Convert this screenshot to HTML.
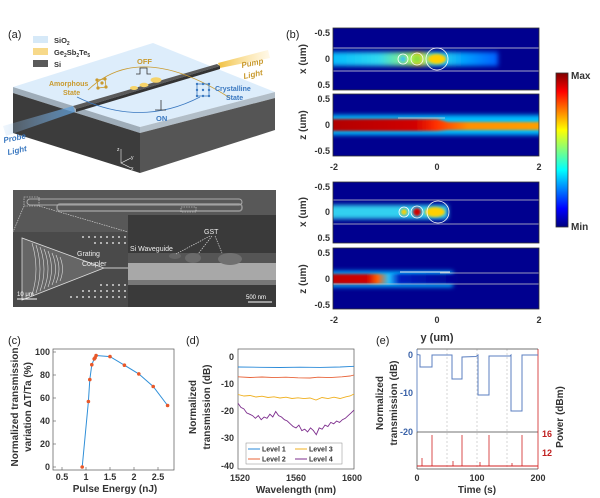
<!DOCTYPE html>
<html><head><meta charset="utf-8"><style>
html,body{margin:0;padding:0;background:#fff;}
svg{display:block;font-family:"Liberation Sans",Arial,sans-serif;}
.t{font-size:9px;font-weight:bold;fill:#333;}
.lab{font-size:11px;fill:#222;}
.al{font-size:10px;font-weight:bold;fill:#333;}
</style></head><body>
<svg width="600" height="498" viewBox="0 0 600 498" xmlns="http://www.w3.org/2000/svg">
<defs>
<linearGradient id="jet" x1="0" y1="1" x2="0" y2="0">
<stop offset="0" stop-color="#00007f"/><stop offset="0.12" stop-color="#0000ff"/><stop offset="0.37" stop-color="#00ffff"/><stop offset="0.5" stop-color="#7fff7f"/><stop offset="0.63" stop-color="#ffff00"/><stop offset="0.88" stop-color="#ff0000"/><stop offset="1" stop-color="#7f0000"/>
</linearGradient>
<linearGradient id="band1" x1="0" y1="0" x2="1" y2="0">
<stop offset="0" stop-color="#00b8ff"/><stop offset="0.3" stop-color="#30d8f0"/><stop offset="0.5" stop-color="#a0f060"/><stop offset="0.52" stop-color="#ffe000"/><stop offset="0.62" stop-color="#40e0e0"/><stop offset="0.8" stop-color="#00a0ff"/><stop offset="1" stop-color="#0060ff"/>
</linearGradient>
<linearGradient id="band2" x1="0" y1="0" x2="1" y2="0">
<stop offset="0" stop-color="#b00000"/><stop offset="0.4" stop-color="#d00000"/><stop offset="0.5" stop-color="#ff3000"/><stop offset="0.65" stop-color="#ff9000"/><stop offset="1" stop-color="#ffa000"/>
</linearGradient>
<linearGradient id="band4" x1="0" y1="0" x2="1" y2="0">
<stop offset="0" stop-color="#c00000"/><stop offset="0.3" stop-color="#d00000"/><stop offset="0.38" stop-color="#ff6000"/><stop offset="0.47" stop-color="#20c0ff"/><stop offset="0.55" stop-color="#0020c0"/><stop offset="1" stop-color="#000090"/>
</linearGradient>
<filter id="bl" x="-20%" y="-50%" width="140%" height="200%"><feGaussianBlur stdDeviation="2.5"/></filter>
<filter id="bl2" x="-20%" y="-50%" width="140%" height="200%"><feGaussianBlur stdDeviation="1.2"/></filter>
<linearGradient id="probe" x1="0" y1="0" x2="1" y2="0"><stop offset="0" stop-color="#a0c8f0" stop-opacity="0.2"/><stop offset="1" stop-color="#5b9bd5"/></linearGradient>
<linearGradient id="pump" x1="0" y1="0" x2="1" y2="0"><stop offset="0" stop-color="#f0c040"/><stop offset="1" stop-color="#ffe090" stop-opacity="0.2"/></linearGradient>
<clipPath id="c1"><rect x="333" y="28" width="206" height="62"/></clipPath>
<clipPath id="c2"><rect x="333" y="94" width="206" height="62"/></clipPath>
<clipPath id="c3"><rect x="333" y="182" width="206" height="61"/></clipPath>
<clipPath id="c4"><rect x="333" y="248" width="206" height="61"/></clipPath>
</defs>

<!-- ===== (a) ===== -->
<text x="8" y="38" class="lab" font-size="12">(a)</text>
<polygon points="13,87 153,43 275,92 140,127" fill="#ddedfb"/>
<polygon points="13,87 140,127 140,133 13,93" fill="#9fadb9"/>
<polygon points="140,127 275,92 275,98 140,133" fill="#b2bec8"/>
<polygon points="13,93 140,133 140,173 13,133" fill="#3c3c3c"/>
<polygon points="140,133 275,98 275,130 140,173" fill="#555"/>
<rect x="33" y="36" width="15" height="7" fill="#d6e9f8"/><text x="54" y="43" font-size="7.5" font-weight="bold" fill="#333">SiO<tspan font-size="5" dy="2">2</tspan></text>
<rect x="33" y="48" width="15" height="7" fill="#f7d98a"/><text x="54" y="55" font-size="7.5" font-weight="bold" fill="#333">Ge<tspan font-size="5" dy="2">2</tspan><tspan dy="-2">Sb</tspan><tspan font-size="5" dy="2">2</tspan><tspan dy="-2">Te</tspan><tspan font-size="5" dy="2">5</tspan></text>
<rect x="33" y="60" width="15" height="7" fill="#5a5a5a"/><text x="54" y="67" font-size="7.5" font-weight="bold" fill="#333">Si</text>
<polygon points="3,126 73,106 75,112 6,136" fill="url(#probe)" opacity="0.8"/>
<polygon points="218,63 268,50 270,58 220,68" fill="url(#pump)"/>
<polygon points="73,106 217,64 220,66 76,109" fill="#5a5a5a"/>
<polygon points="76,109 220,66 220,69 76,112" fill="#333"/>
<ellipse cx="134" cy="88" rx="4" ry="2" fill="#f5d36a"/><ellipse cx="144" cy="85" rx="4.5" ry="2.2" fill="#f5d36a"/><ellipse cx="156" cy="80" rx="5.5" ry="2.8" fill="#f5d36a"/>
<path d="M88,90 Q140,40 230,98" fill="none" stroke="#c99a2e" stroke-width="0.8"/>
<path d="M77,97 Q140,128 200,97" fill="none" stroke="#3a78c0" stroke-width="0.8"/>
<text x="137" y="64" font-size="7.5" fill="#c99a2e" font-weight="bold">OFF</text>
<path d="M136,74 h4 v-6 h7 v6 h4" fill="none" stroke="#333" stroke-width="0.8"/>
<path d="M155,110 h6 v-10 v10 h5" fill="none" stroke="#333" stroke-width="0.8"/>
<text x="156" y="121" font-size="7.5" fill="#3a78c0" font-weight="bold">ON</text>
<text x="49" y="86" font-size="7" fill="#c99a2e" font-weight="bold">Amorphous</text><text x="63" y="95" font-size="7" fill="#c99a2e" font-weight="bold">State</text>
<g stroke="#c99a2e" stroke-width="0.8" fill="#c99a2e"><path d="M97,80 l8,-1 l1,8 l-8,1z M98,88 l8,-1" fill="none"/><circle cx="97" cy="80" r="1.2"/><circle cx="105" cy="79" r="1.2"/><circle cx="106" cy="87" r="1.2"/><circle cx="98" cy="88" r="1.2"/><circle cx="102" cy="83" r="1.2"/></g>
<g fill="#3a78c0"><rect x="197" y="84" width="12" height="12" fill="none" stroke="#3a78c0" stroke-width="0.8"/><circle cx="197" cy="84" r="1.2"/><circle cx="203" cy="84" r="1.2"/><circle cx="209" cy="84" r="1.2"/><circle cx="197" cy="90" r="1.2"/><circle cx="203" cy="90" r="1.2"/><circle cx="209" cy="90" r="1.2"/><circle cx="197" cy="96" r="1.2"/><circle cx="203" cy="96" r="1.2"/><circle cx="209" cy="96" r="1.2"/></g>
<text x="215" y="91" font-size="7" fill="#3a78c0" font-weight="bold">Crystalline</text><text x="226" y="100" font-size="7" fill="#3a78c0" font-weight="bold">State</text>
<text x="242" y="68" font-size="8" fill="#c99a2e" font-weight="bold" font-style="italic" transform="rotate(-12 242 68)">Pump</text>
<text x="244" y="79" font-size="8" fill="#c99a2e" font-weight="bold" font-style="italic" transform="rotate(-12 244 79)">Light</text>
<text x="4" y="143" font-size="8" fill="#3a78c0" font-weight="bold" font-style="italic" transform="rotate(-12 4 143)">Probe</text>
<text x="8" y="155" font-size="8" fill="#3a78c0" font-weight="bold" font-style="italic" transform="rotate(-12 8 155)">Light</text>
<g stroke="#eee" stroke-width="0.6" fill="none"><path d="M121,149 v14 l10,-5 M121,163 l10,5"/></g>
<text x="117" y="151" font-size="5" fill="#eee">z</text><text x="131" y="159" font-size="5" fill="#eee">y</text><text x="131" y="170" font-size="5" fill="#eee">x</text>
<!-- SEM -->
<rect x="13" y="190" width="263" height="117" fill="#585858"/>
<rect x="57" y="204" width="185" height="7" rx="3" fill="none" stroke="#999" stroke-width="1.5"/>
<rect x="27" y="199" width="215" height="6" rx="3" fill="none" stroke="#aaa" stroke-width="1"/>
<rect x="13" y="232" width="115" height="75" fill="#4a4a4a"/>
<g fill="#ccc" opacity="0.8">
<rect x="82" y="236" width="2" height="2"/><rect x="88" y="236" width="2" height="2"/><rect x="94" y="236" width="2" height="2"/><rect x="100" y="236" width="2" height="2"/><rect x="106" y="236" width="2" height="2"/><rect x="112" y="236" width="2" height="2"/><rect x="118" y="236" width="2" height="2"/><rect x="124" y="236" width="2" height="2"/>
<rect x="94" y="242" width="2" height="2"/><rect x="100" y="242" width="2" height="2"/><rect x="106" y="242" width="2" height="2"/><rect x="112" y="242" width="2" height="2"/><rect x="118" y="242" width="2" height="2"/><rect x="124" y="242" width="2" height="2"/>
<rect x="100" y="284" width="2" height="2"/><rect x="106" y="284" width="2" height="2"/><rect x="112" y="284" width="2" height="2"/><rect x="118" y="284" width="2" height="2"/><rect x="124" y="284" width="2" height="2"/>
<rect x="82" y="290" width="2" height="2"/><rect x="88" y="290" width="2" height="2"/><rect x="94" y="290" width="2" height="2"/><rect x="100" y="290" width="2" height="2"/><rect x="106" y="290" width="2" height="2"/><rect x="112" y="290" width="2" height="2"/><rect x="118" y="290" width="2" height="2"/><rect x="124" y="290" width="2" height="2"/>
<rect x="70" y="296" width="2" height="2"/><rect x="76" y="296" width="2" height="2"/><rect x="82" y="296" width="2" height="2"/><rect x="88" y="296" width="2" height="2"/><rect x="94" y="296" width="2" height="2"/><rect x="100" y="296" width="2" height="2"/><rect x="106" y="296" width="2" height="2"/><rect x="112" y="296" width="2" height="2"/><rect x="118" y="296" width="2" height="2"/><rect x="124" y="296" width="2" height="2"/>
</g>
<polygon points="22,238 22,300 104,268" fill="#666" stroke="#ddd" stroke-width="0.8"/>
<g fill="none" stroke="#ddd" stroke-width="0.6"><path d="M32,243 Q40,269 32,295"/><path d="M36,245 Q44,269 36,293"/><path d="M40,247 Q48,269 40,291"/><path d="M44,249 Q52,269 44,289"/><path d="M48,251 Q55,269 48,287"/><path d="M52,253 Q59,269 52,285"/><path d="M56,255 Q62,269 56,283"/><path d="M60,257 Q65,269 60,281"/></g>
<line x1="104" y1="268" x2="128" y2="268" stroke="#ccc" stroke-width="1"/>
<text x="77" y="256" font-size="7" fill="#eee">Grating</text><text x="82" y="266" font-size="7" fill="#eee">Coupler</text>
<line x1="17" y1="299" x2="37" y2="299" stroke="#fff" stroke-width="1"/><text x="17" y="296" font-size="6" fill="#fff">10 μm</text>
<rect x="128" y="215" width="148" height="92" fill="#3a3a3a"/>
<rect x="128" y="253" width="148" height="10" fill="#555"/>
<rect x="128" y="263" width="148" height="17" fill="#a8a8a8"/>
<rect x="128" y="280" width="148" height="5" fill="#777"/>
<ellipse cx="175" cy="256" rx="6" ry="3" fill="#666"/><ellipse cx="193" cy="258" rx="8" ry="5" fill="#6a6a6a"/><ellipse cx="230" cy="259" rx="12" ry="6" fill="#707070"/>
<text x="130" y="251" font-size="7" fill="#eee">Si Waveguide</text><text x="204" y="234" font-size="7" fill="#eee">GST</text>
<g stroke="#eee" stroke-width="0.6" stroke-dasharray="1.5,1"><line x1="210" y1="236" x2="176" y2="254"/><line x1="212" y1="236" x2="198" y2="254"/><line x1="215" y1="236" x2="222" y2="253"/></g>
<line x1="248" y1="302" x2="272" y2="302" stroke="#fff"/><text x="246" y="299" font-size="6" fill="#fff">500 nm</text>
<g stroke="#ddd" stroke-width="0.6" stroke-dasharray="1.5,1" fill="none"><rect x="24" y="197" width="15" height="9"/><line x1="24" y1="206" x2="13" y2="232"/><line x1="39" y1="206" x2="128" y2="232"/><rect x="181" y="207" width="15" height="5"/></g>

<!-- ===== (b) ===== -->
<text x="286" y="38" class="lab" font-size="12">(b)</text>
<g clip-path="url(#c1)">
<rect x="333" y="28" width="206" height="62" fill="#00008f"/>
<rect x="328" y="52" width="170" height="14" fill="url(#band1)" filter="url(#bl)"/>
<ellipse cx="437" cy="59" rx="9" ry="5" fill="#ffd000" filter="url(#bl2)"/>
<ellipse cx="417" cy="59" rx="4" ry="4" fill="#90e040" filter="url(#bl2)"/>
<ellipse cx="403" cy="59" rx="3" ry="3" fill="#40c0f0" filter="url(#bl2)"/>
<line x1="333" y1="48" x2="539" y2="48" stroke="#ddd" stroke-width="0.8"/><line x1="333" y1="71" x2="539" y2="71" stroke="#ddd" stroke-width="0.8"/>
<circle cx="403" cy="59" r="5" fill="none" stroke="#fff" stroke-width="0.8"/><circle cx="417" cy="59" r="6" fill="none" stroke="#fff" stroke-width="0.8"/><circle cx="437" cy="59" r="11" fill="none" stroke="#fff" stroke-width="0.8"/>
</g>
<rect x="333" y="28" width="206" height="62" fill="none" stroke="#333" stroke-width="0.8"/>
<g clip-path="url(#c2)">
<rect x="333" y="94" width="206" height="62" fill="#00008f"/>
<rect x="328" y="115" width="216" height="20" fill="#00c0ff" filter="url(#bl)"/>
<path d="M328,119 H437 L448,122 H544 V130 H448 L437,131 H328Z" fill="url(#band2)" filter="url(#bl2)"/>
<line x1="398" y1="118" x2="445" y2="118" stroke="#ddd" stroke-width="0.8"/>
</g>
<rect x="333" y="94" width="206" height="62" fill="none" stroke="#333" stroke-width="0.8"/>
<g clip-path="url(#c3)">
<rect x="333" y="182" width="206" height="61" fill="#00008f"/>
<rect x="328" y="205" width="120" height="14" fill="#30d0f0" filter="url(#bl)"/>
<ellipse cx="435" cy="212" rx="10" ry="5" fill="#ffd000" filter="url(#bl2)"/>
<ellipse cx="417" cy="212" rx="4" ry="4" fill="#d00000" filter="url(#bl2)"/>
<ellipse cx="404" cy="212" rx="3" ry="3" fill="#ffd000" filter="url(#bl2)"/>
<line x1="333" y1="200" x2="539" y2="200" stroke="#ccc" stroke-width="0.8"/><line x1="333" y1="224" x2="539" y2="224" stroke="#ccc" stroke-width="0.8"/>
<circle cx="404" cy="212" r="5" fill="none" stroke="#fff" stroke-width="0.8"/><circle cx="417" cy="212" r="6" fill="none" stroke="#fff" stroke-width="0.8"/><circle cx="438" cy="212" r="11" fill="none" stroke="#fff" stroke-width="0.8"/>
</g>
<rect x="333" y="182" width="206" height="61" fill="none" stroke="#333" stroke-width="0.8"/>
<g clip-path="url(#c4)">
<rect x="333" y="248" width="206" height="61" fill="#00008f"/>
<rect x="328" y="271" width="125" height="16" fill="#00b0ff" filter="url(#bl)"/>
<rect x="328" y="274" width="130" height="10" fill="url(#band4)" filter="url(#bl2)"/>
<line x1="400" y1="272" x2="450" y2="272" stroke="#eee" stroke-width="1"/>
<line x1="440" y1="273" x2="539" y2="273" stroke="#ccc" stroke-width="0.7"/><line x1="333" y1="284" x2="539" y2="284" stroke="#ccc" stroke-width="0.7"/>
</g>
<rect x="333" y="248" width="206" height="61" fill="none" stroke="#333" stroke-width="0.8"/>
<g class="t" text-anchor="end">
<text x="330" y="36">-0.5</text><text x="330" y="62">0</text><text x="330" y="88">0.5</text>
<text x="330" y="102">0.5</text><text x="330" y="128">0</text><text x="330" y="154">-0.5</text>
<text x="330" y="190">-0.5</text><text x="330" y="215">0</text><text x="330" y="241">0.5</text>
<text x="330" y="256">0.5</text><text x="330" y="282">0</text><text x="330" y="308">-0.5</text>
</g>
<g class="t" text-anchor="middle">
<text x="334" y="170">-2</text><text x="437" y="170">0</text><text x="539" y="170">2</text>
<text x="334" y="323">-2</text><text x="437" y="323">0</text><text x="539" y="323">2</text>
</g>
<g class="al" text-anchor="middle">
<text transform="translate(306,59) rotate(-90)">x (um)</text>
<text transform="translate(306,125) rotate(-90)">z (um)</text>
<text transform="translate(306,212) rotate(-90)">x (um)</text>
<text transform="translate(306,279) rotate(-90)">z (um)</text>
<text x="437" y="341" font-size="11">y (um)</text>
</g>
<rect x="556" y="73" width="12" height="154" fill="url(#jet)" stroke="#333" stroke-width="0.8"/>
<text x="571" y="79" class="al">Max</text><text x="571" y="230" class="al">Min</text>

<!-- ===== (c) ===== -->
<text x="8" y="344" class="lab" font-size="12">(c)</text>
<rect x="53" y="349" width="121" height="121" fill="none" stroke="#555" stroke-width="0.7"/>
<g stroke="#555" stroke-width="0.6"><line x1="62" y1="470" x2="62" y2="467"/><line x1="86" y1="470" x2="86" y2="467"/><line x1="110" y1="470" x2="110" y2="467"/><line x1="134" y1="470" x2="134" y2="467"/><line x1="158" y1="470" x2="158" y2="467"/>
<line x1="53" y1="467" x2="56" y2="467"/><line x1="53" y1="444" x2="56" y2="444"/><line x1="53" y1="421" x2="56" y2="421"/><line x1="53" y1="398" x2="56" y2="398"/><line x1="53" y1="375" x2="56" y2="375"/><line x1="53" y1="352" x2="56" y2="352"/></g>
<g class="t" text-anchor="middle"><text x="62" y="480">0.5</text><text x="86" y="480">1</text><text x="110" y="480">1.5</text><text x="134" y="480">2</text><text x="158" y="480">2.5</text></g>
<g class="t" text-anchor="end"><text x="50" y="470">0</text><text x="50" y="447">20</text><text x="50" y="424">40</text><text x="50" y="401">60</text><text x="50" y="378">80</text><text x="50" y="355">100</text></g>
<text x="115" y="492" class="al" text-anchor="middle">Pulse Energy (nJ)</text>
<text transform="translate(18,407) rotate(-90)" class="al" text-anchor="middle">Normalized transmission</text>
<text transform="translate(31,407) rotate(-90)" class="al" text-anchor="middle">variation ΔT/Ta (%)</text>
<polyline points="82.2,467 88.4,401.5 89.8,379.6 91.8,364.7 94.2,358.9 95.1,357.8 96.1,355.5 110,356.6 124.4,365.2 138.8,373.9 153.2,386.5 167.6,405.5" fill="none" stroke="#2f8fd8" stroke-width="1"/>
<g fill="#e8582a"><circle cx="82.2" cy="467" r="1.8"/><circle cx="88.4" cy="401.5" r="1.8"/><circle cx="89.8" cy="379.6" r="1.8"/><circle cx="91.8" cy="364.7" r="1.8"/><circle cx="94.2" cy="358.9" r="1.8"/><circle cx="95.1" cy="357.8" r="1.8"/><circle cx="96.1" cy="355.5" r="1.8"/><circle cx="110" cy="356.6" r="1.8"/><circle cx="124.4" cy="365.2" r="1.8"/><circle cx="138.8" cy="373.9" r="1.8"/><circle cx="153.2" cy="386.5" r="1.8"/><circle cx="167.6" cy="405.5" r="1.8"/></g>

<!-- ===== (d) ===== -->
<text x="186" y="344" class="lab" font-size="12">(d)</text>
<rect x="238" y="349" width="116" height="120" fill="none" stroke="#555" stroke-width="0.7"/>
<g class="t" text-anchor="end"><text x="234" y="360">0</text><text x="234" y="387">-10</text><text x="234" y="414">-20</text><text x="234" y="441">-30</text><text x="234" y="469">-40</text></g>
<g class="t" text-anchor="middle"><text x="240" y="481">1520</text><text x="296" y="481">1560</text><text x="352" y="481">1600</text></g>
<text x="296" y="493" class="al" text-anchor="middle">Wavelength (nm)</text>
<text transform="translate(196,407) rotate(-90)" class="al" text-anchor="middle">Normalized</text>
<text transform="translate(210,407) rotate(-90)" class="al" text-anchor="middle">transmission (dB)</text>
<polyline points="238,367 260,367.3 280,367.5 300,367.2 320,367.4 340,367 354,366.3" fill="none" stroke="#2a8ad8" stroke-width="0.9"/>
<polyline points="238,376.8 250,377.5 262,377 274,377.6 286,377.2 298,377.8 310,378 318,377.2 330,377.6 342,376.8 350,376 354,375" fill="none" stroke="#e8643a" stroke-width="0.9"/>
<polyline points="238,394.5 244,396 250,395.5 256,397 262,396.2 268,397.5 274,396.8 280,398 286,397.2 292,398.5 298,397.8 304,398.6 310,398 316,400 322,397.5 328,398.6 334,397.2 340,398.5 346,396.8 350,396 354,394" fill="none" stroke="#f0b020" stroke-width="0.9"/>
<polyline points="238,403.3 240.9,407.4 243.8,408.8 246.7,412.9 249.6,414.2 252.5,415.6 255.4,418.3 258.3,415.6 261.2,419.7 264.1,417 267,418.3 269.9,414.2 272.8,417 275.7,411.5 278.6,415.6 281.5,417 284.4,419.7 287.3,421 290.2,423.8 293.1,426.5 296,427.9 298.9,425.1 301.8,430.6 304.7,429.2 307.6,431.9 310.5,427.9 313.4,430.6 316.3,434.7 319.2,427.9 322.1,429.2 325,425.1 327.9,426.5 330.8,422.4 333.7,423.8 336.6,421 339.5,422.4 342.4,419.7 345.3,418.3 348.2,415.6 351.1,412.9 354,410.1" fill="none" stroke="#7e2f8e" stroke-width="0.9"/>
<rect x="246" y="443" width="96" height="21" fill="#fff" stroke="#888" stroke-width="0.5"/>
<g font-size="7" font-weight="bold" fill="#333">
<line x1="248" y1="449" x2="260" y2="449" stroke="#2a8ad8"/><text x="262" y="451.5">Level 1</text>
<line x1="295" y1="449" x2="307" y2="449" stroke="#f0b020"/><text x="309" y="451.5">Level 3</text>
<line x1="248" y1="459" x2="260" y2="459" stroke="#e8643a"/><text x="262" y="461.5">Level 2</text>
<line x1="295" y1="459" x2="307" y2="459" stroke="#7e2f8e"/><text x="309" y="461.5">Level 4</text>
</g>

<!-- ===== (e) ===== -->
<text x="376" y="344" class="lab" font-size="12">(e)</text>
<g stroke="#aaa" stroke-width="0.5" stroke-dasharray="2,2"><line x1="447" y1="349" x2="447" y2="469"/><line x1="477" y1="349" x2="477" y2="469"/><line x1="507" y1="349" x2="507" y2="469"/></g>
<line x1="417" y1="349" x2="417" y2="432" stroke="#4a72b8" stroke-width="0.8"/>
<line x1="417" y1="432" x2="538" y2="432" stroke="#444" stroke-width="0.7"/>
<line x1="538" y1="349" x2="538" y2="469" stroke="#d02020" stroke-width="0.8"/>
<line x1="417" y1="432" x2="417" y2="469" stroke="#444" stroke-width="0.7"/>
<line x1="417" y1="469" x2="538" y2="469" stroke="#444" stroke-width="0.7"/>
<line x1="417" y1="349" x2="538" y2="349" stroke="#444" stroke-width="0.7"/>
<g class="t" text-anchor="end"><text x="413" y="358" fill="#3a62a8">0</text><text x="413" y="396" fill="#3a62a8">-10</text><text x="413" y="435" fill="#3a62a8">-20</text></g>
<g class="t"><text x="542" y="437" fill="#c02020">16</text><text x="542" y="456" fill="#c02020">12</text></g>
<g class="t" text-anchor="middle"><text x="417" y="481">0</text><text x="477" y="481">100</text><text x="538" y="481">200</text></g>
<text x="477" y="493" class="al" text-anchor="middle">Time (s)</text>
<text transform="translate(383,403) rotate(-90)" class="al" text-anchor="middle" fill="#3a62a8">Normalized</text>
<text transform="translate(397,403) rotate(-90)" class="al" text-anchor="middle" fill="#3a62a8">transmission (dB)</text>
<text transform="translate(563,417) rotate(-90)" class="al" text-anchor="middle" fill="#c02020">Power (dBm)</text>
<polyline points="417,354.5 420,355 420,367 432,367 432,355 452,355 452,379 462,379 462,357 476,356.5 478,355 478,395 489,395 489,356 510,356 511,355 511,411 522,411 522,355 538,355" fill="none" stroke="#5b7fc0" stroke-width="1"/>
<line x1="417" y1="466" x2="538" y2="466" stroke="#d02020" stroke-width="1"/>
<g stroke="#d02020" stroke-width="0.8"><line x1="422" y1="466" x2="422" y2="458"/><line x1="432" y1="466" x2="432" y2="435"/><line x1="453" y1="466" x2="453" y2="461"/><line x1="462" y1="466" x2="462" y2="435"/><line x1="480" y1="466" x2="480" y2="462"/><line x1="489" y1="466" x2="489" y2="435"/><line x1="512" y1="466" x2="512" y2="463"/><line x1="522" y1="466" x2="522" y2="435"/></g>
</svg>
</body></html>
